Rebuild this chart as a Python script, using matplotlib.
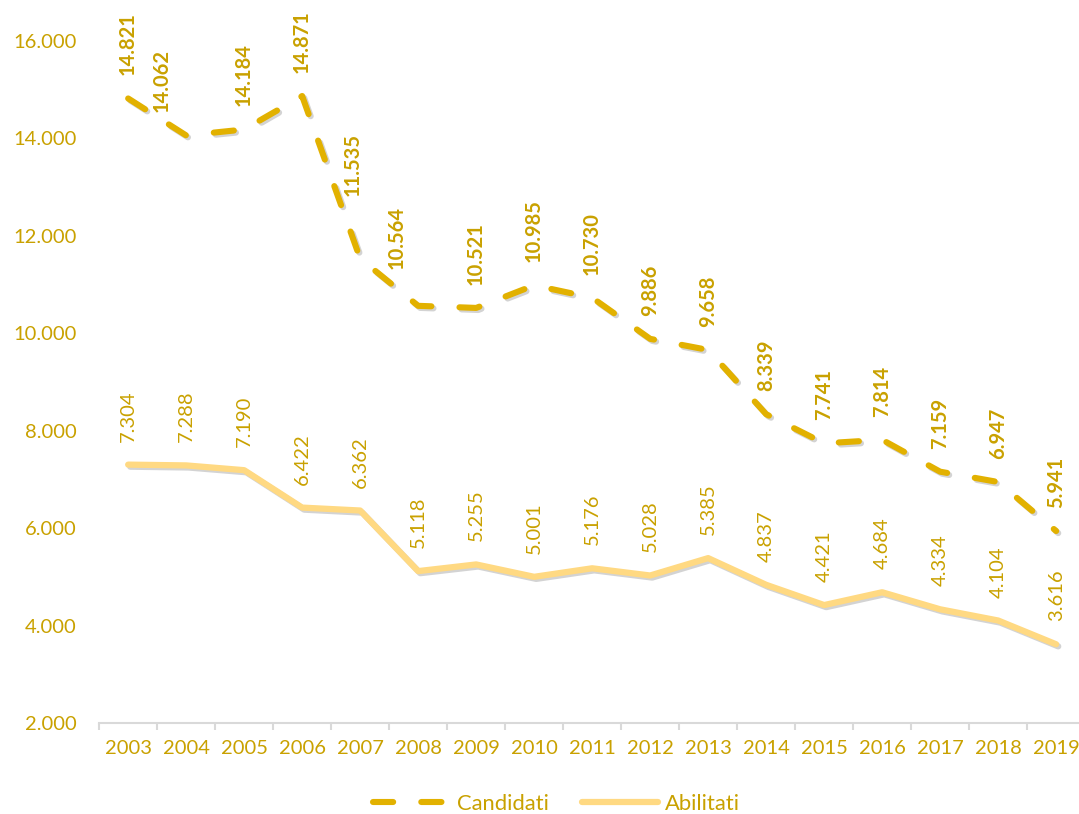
import matplotlib
matplotlib.use("Agg")
import matplotlib.pyplot as plt
import matplotlib.patheffects as pe
from matplotlib.lines import Line2D

plt.rcParams['font.family'] = ['Lato', 'DejaVu Sans']

years = ['2003', '2004', '2005', '2006', '2007', '2008', '2009', '2010', '2011',
         '2012', '2013', '2014', '2015', '2016', '2017', '2018', '2019']
candidati = [14821, 14062, 14184, 14871, 11535, 10564, 10521, 10985, 10730,
             9886, 9658, 8339, 7741, 7814, 7159, 6947, 5941]
abilitati = [7304, 7288, 7190, 6422, 6362, 5118, 5255, 5001, 5176,
             5028, 5385, 4837, 4421, 4684, 4334, 4104, 3616]
yticks = [2000, 4000, 6000, 8000, 10000, 12000, 14000, 16000]

# manual label nudges (pixels) for a few Candidati labels: index -> (dx, dy)
cand_nudge = {1: (-24, 0), 4: (-7, 40), 5: (-21, 14)}

TEXT = '#C9A100'
CAND = '#E2B100'
ABIL = '#FFD982'

DPI = 100
fig = plt.figure(figsize=(10.79, 8.14), dpi=DPI)
ax = fig.add_axes([0.0919, 0.1118, 0.9138, 0.8378])

x = list(range(len(years)))
shadow = [pe.SimpleLineShadow(offset=(1.5, -1.5), shadow_color='#777777', alpha=0.32),
          pe.Normal()]

ax.plot(x, abilitati, color=ABIL, lw=4.5, solid_capstyle='round',
        solid_joinstyle='round', path_effects=shadow, zorder=2)
ax.plot(x, candidati, color=CAND, lw=4.4, linestyle=(0, (3.3, 4.6)),
        dash_capstyle='round', dash_joinstyle='round', path_effects=shadow, zorder=3)

px2pt = 72.0 / DPI
gap = 23 * px2pt
for i, v in enumerate(candidati):
    dx, dy = cand_nudge.get(i, (0, 0))
    ax.annotate(f"{v:,}".replace(',', '.'), (i, v),
                xytext=(dx * px2pt, gap + dy * px2pt), textcoords='offset points',
                rotation=90, ha='center', va='bottom', fontsize=14.5,
                fontweight='bold', color=TEXT, annotation_clip=False)
for i, v in enumerate(abilitati):
    ax.annotate(f"{v:,}".replace(',', '.'), (i, v),
                xytext=(0, gap), textcoords='offset points',
                rotation=90, ha='center', va='bottom', fontsize=14.5,
                color=TEXT, annotation_clip=False)

ax.set_xlim(-0.5, len(years) - 0.5)
ax.set_ylim(2000, 16000)
ax.set_yticks(yticks)
ax.set_yticklabels([f"{t:,}".replace(',', '.') for t in yticks])
ax.set_xticks(x)
ax.set_xticklabels(years)
ax.set_xticks([i - 0.5 for i in range(len(years) + 1)], minor=True)

for s in ['top', 'right', 'left']:
    ax.spines[s].set_visible(False)
ax.spines['bottom'].set_color('#D9D9D9')
ax.spines['bottom'].set_linewidth(1.5)

ax.tick_params(axis='y', length=0, pad=16, labelsize=14.5, labelcolor=TEXT)
ax.tick_params(axis='x', which='major', length=0, pad=12, labelsize=14.5, labelcolor=TEXT)
ax.tick_params(axis='x', which='minor', length=5, width=1.5, color='#D9D9D9')

handles = [Line2D([], [], color=CAND, lw=4.4, linestyle=(0, (3.3, 4.6)), dash_capstyle='round'),
           Line2D([], [], color=ABIL, lw=4.5, solid_capstyle='round')]
leg = fig.legend(handles, ['Candidati', 'Abilitati'], loc='lower center',
                 bbox_to_anchor=(0.516, -0.024), ncol=2, frameon=False,
                 fontsize=15.8, handlelength=3.5, handletextpad=0.3,
                 columnspacing=1.5)
for t in leg.get_texts():
    t.set_color(TEXT)

fig.savefig('out.png', dpi=DPI)
